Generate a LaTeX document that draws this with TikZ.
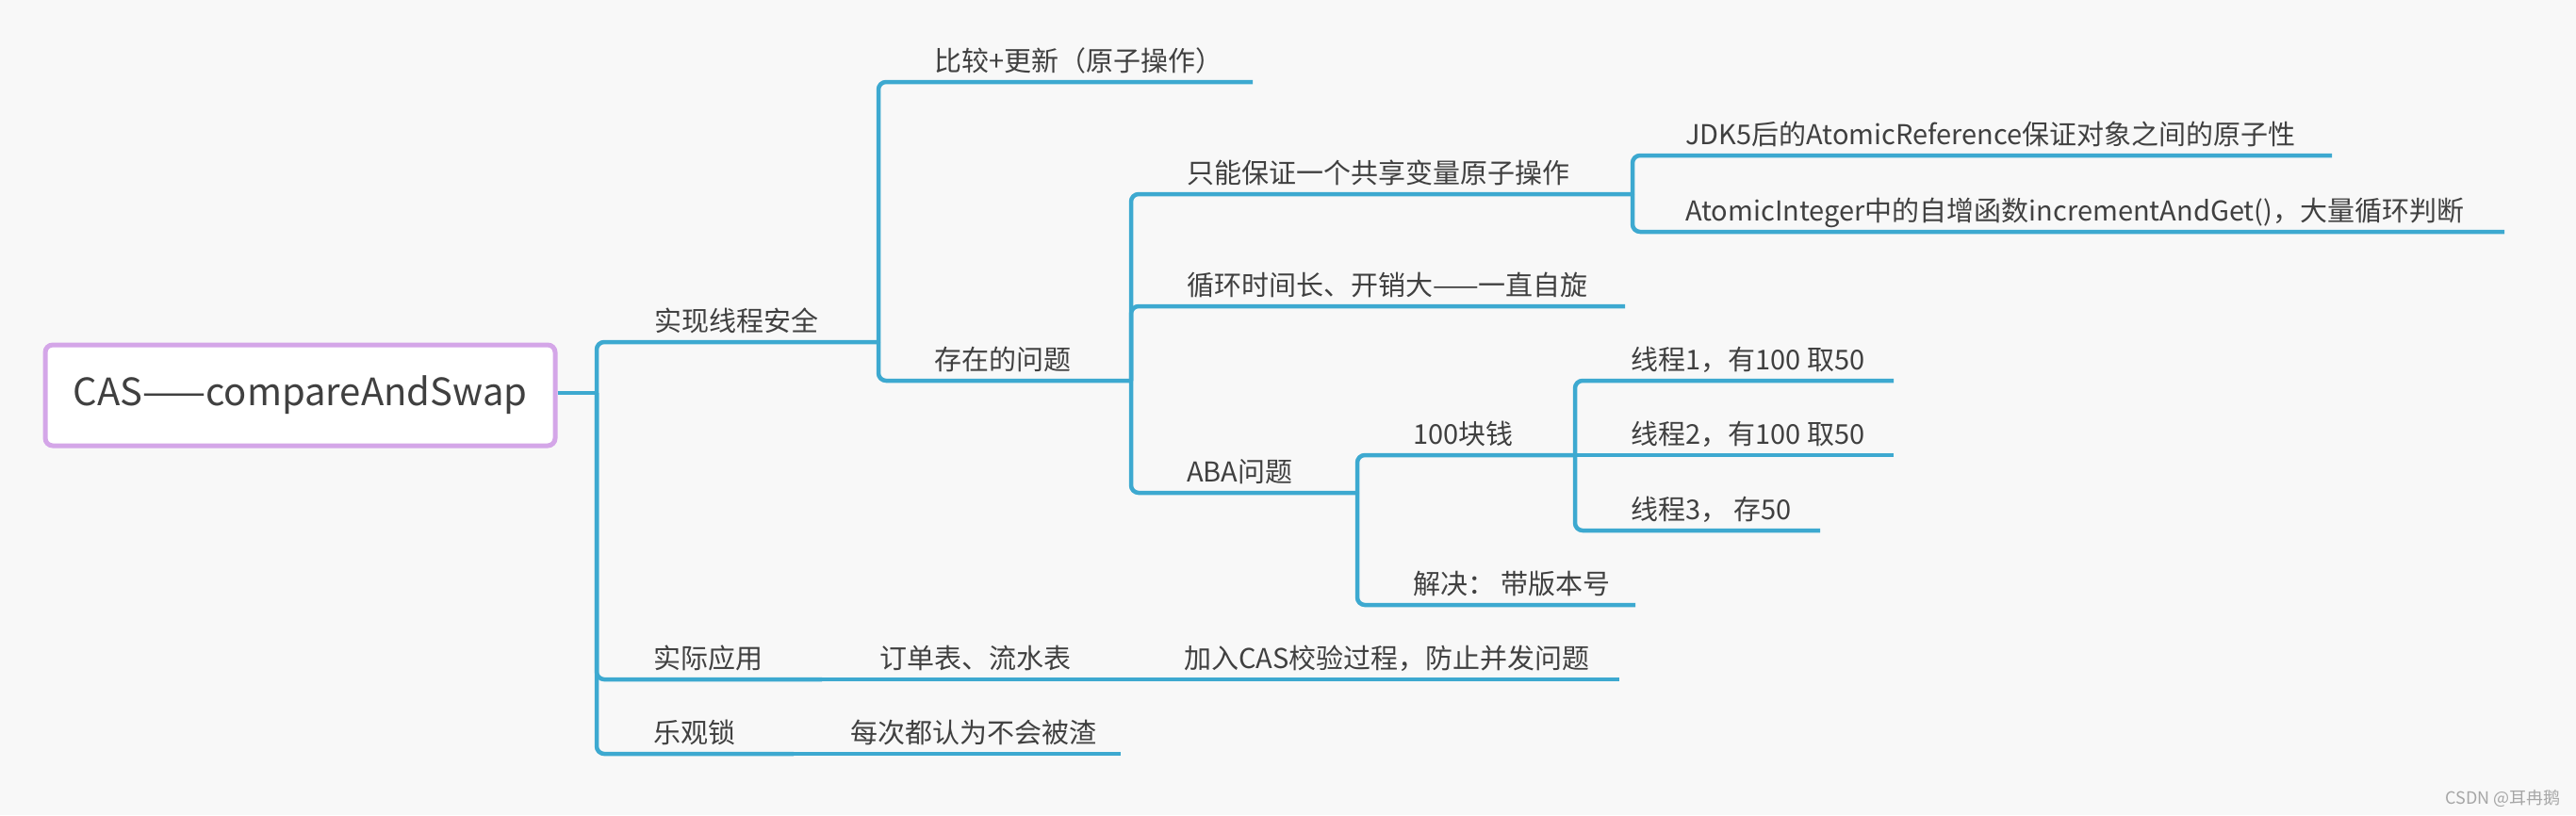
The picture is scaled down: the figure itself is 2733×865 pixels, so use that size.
\documentclass[tikz,border=0pt]{standalone}
\usepackage{fontspec}
\setmainfont{Noto Sans CJK SC}
\definecolor{bgc}{RGB}{248,248,248}
\definecolor{brc}{RGB}{61,169,208}
\definecolor{txc}{RGB}{64,64,64}
\definecolor{rbc}{RGB}{212,166,232}
\begin{document}
\begin{tikzpicture}[x=1pt,y=-1pt,
  conn/.style={draw=brc,line width=4.5pt,rounded corners=8pt},
  topic/.style={anchor=base west,inner sep=0pt,text=txc,font=\fontsize{29}{29}\selectfont},
  rootbox/.style={draw=rbc,line width=5pt,fill=white,rounded corners=8pt,
    minimum width=541pt,minimum height=107pt,inner sep=0pt,text=txc,
    font=\fontsize{40}{40}\selectfont},
  wmark/.style={anchor=base east,inner sep=0pt,text=black!35,font=\fontsize{18}{18}\selectfont}
]
\path[fill=bgc] (0,0) rectangle (2733,865);
\useasboundingbox (0,0) rectangle (2733,865);

% root
\node[rootbox] (root) at (318.5,419.5) {CAS——compareAndSwap};
\coordinate (Rj) at (633,417);

% level 1
\node[topic] (A) at (694,351) {实现线程安全};
\coordinate (Ae) at (932,363);
\node[topic] (B) at (693,709) {实际应用};
\coordinate (Be) at (872,721);
\node[topic] (C) at (693,788) {乐观锁};
\coordinate (Ce) at (842,800);

% level 2
\node[topic] (A1) at (991,75) {比较+更新（原子操作）};
\coordinate (A1e) at (1329,87);
\node[topic] (A2) at (991,392) {存在的问题};
\coordinate (A2e) at (1200,404);
\node[topic] (B1) at (933,709) {订单表、流水表};
\coordinate (B1e) at (1200,721);
\node[topic] (C1) at (902,788) {每次都认为不会被渣};
\coordinate (C1e) at (1189,800);

% level 3
\node[topic] (A21) at (1259,194) {只能保证一个共享变量原子操作};
\coordinate (A21e) at (1732,206);
\node[topic] (A22) at (1259,313) {循环时间长、开销大——一直自旋};
\coordinate (A22e) at (1724,325);
\node[topic] (A23) at (1259,511) {ABA问题};
\coordinate (A23e) at (1440,523);
\node[topic] (B11) at (1256,709) {加入CAS校验过程，防止并发问题};
\coordinate (B11e) at (1718,721);

% level 4
\node[topic] (A211) at (1788,153) {JDK5后的AtomicReference保证对象之间的原子性};
\coordinate (A211e) at (2474,165);
\node[topic] (A212) at (1788,234) {AtomicInteger中的自增函数incrementAndGet()，大量循环判断};
\coordinate (A212e) at (2657,246);
\node[topic] (A231) at (1499,471) {100块钱};
\coordinate (A231e) at (1671,483);
\node[topic] (A232) at (1499,630) {解决： 带版本号};
\coordinate (A232e) at (1735,642);

% level 5
\node[topic] (T1) at (1730,392) {线程1，有100 取50};
\coordinate (T1e) at (2009,404);
\node[topic] (T2) at (1730,471) {线程2，有100 取50};
\coordinate (T2e) at (2009,483);
\node[topic] (T3) at (1730,551) {线程3， 存50};
\coordinate (T3e) at (1931,563);

% connectors
\draw[conn] (root.east |- Rj) -- (Rj);
\draw[conn] (Rj) |- (Ae);
\draw[conn] (Rj) |- (Be);
\draw[conn] (Rj) |- (Ce);

\draw[conn] (Ae) |- (A1e);
\draw[conn] (Ae) |- (A2e);
\draw[conn] (Be) -- (B1e);
\draw[conn] (Ce) -- (C1e);

\draw[conn] (A2e) |- (A21e);
\draw[conn] (A2e) |- (A22e);
\draw[conn] (A2e) |- (A23e);
\draw[conn] (B1e) -- (B11e);

\draw[conn] (A21e) |- (A211e);
\draw[conn] (A21e) |- (A212e);
\draw[conn] (A23e) |- (A231e);
\draw[conn] (A23e) |- (A232e);

\draw[conn] (A231e) |- (T1e);
\draw[conn] (A231e) -- (T2e);
\draw[conn] (A231e) |- (T3e);

% watermark
\node[wmark] (wm) at (2717,853) {CSDN @耳冉鹅};
\end{tikzpicture}
\end{document}
